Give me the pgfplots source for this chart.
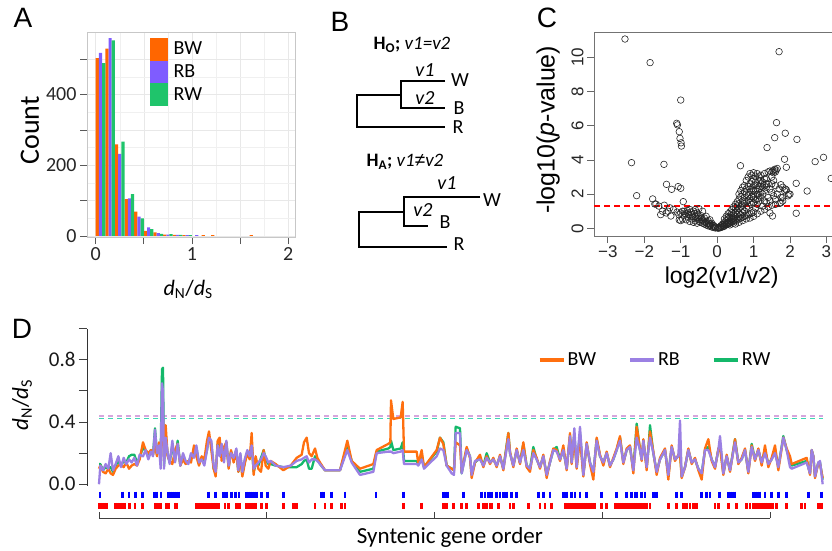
\documentclass[border=0pt]{standalone}
\usepackage{fontspec}
\setmainfont{Carlito}
\newfontfamily\arialf{Liberation Sans}
\usepackage{pgfplots}
\usepackage{pgfplotstable}
\pgfplotsset{compat=1.18}
\definecolor{bwA}{HTML}{FF6600}
\definecolor{rbA}{HTML}{7F5CFF}
\definecolor{rwA}{HTML}{1FC46B}
\definecolor{bwD}{HTML}{FF6F0F}
\definecolor{rbD}{HTML}{9B80E3}
\definecolor{rwD}{HTML}{14B86A}
\definecolor{dashP}{HTML}{D6A6DE}
\definecolor{dashG}{HTML}{3FD6B4}

\pgfplotstableread{
x BW RB RW
0 0.10 0.00 0.13
4 0.12 0.12 0.13
12 0.08 0.09 0.09
20 0.07 0.13 0.11
28 0.10 0.10 0.10
35 0.07 0.20 0.11
42 0.06 0.09 0.08
50 0.10 0.13 0.12
58 0.12 0.18 0.15
66 0.13 0.11 0.12
74 0.11 0.17 0.15
82 0.14 0.13 0.14
90 0.10 0.16 0.18
98 0.12 0.14 0.19
106 0.13 0.17 0.19
114 0.12 0.12 0.14
122 0.16 0.19 0.17
132 0.27 0.18 0.24
140 0.22 0.22 0.21
148 0.20 0.16 0.19
156 0.22 0.21 0.22
162 0.19 0.18 0.19
168 0.25 0.35 0.36
174 0.18 0.20 0.19
180 0.27 0.25 0.25
185 0.22 0.10 0.20
189 0.30 0.65 0.74
192 0.42 0.60 0.75
195 0.15 0.10 0.12
200 0.38 0.30 0.32
206 0.18 0.20 0.19
212 0.15 0.13 0.14
220 0.13 0.28 0.25
228 0.22 0.14 0.15
236 0.26 0.26 0.28
244 0.12 0.12 0.12
252 0.16 0.20 0.18
260 0.13 0.15 0.14
268 0.15 0.13 0.14
276 0.14 0.20 0.18
285 0.25 0.17 0.20
292 0.18 0.25 0.24
300 0.12 0.14 0.13
308 0.18 0.16 0.17
316 0.16 0.12 0.14
324 0.28 0.22 0.22
330 0.34 0.30 0.31
337 0.22 0.28 0.26
344 0.10 0.12 0.10
350 0.05 0.08 0.07
356 0.28 0.25 0.26
362 0.30 0.18 0.21
368 0.15 0.26 0.23
375 0.24 0.14 0.18
382 0.27 0.28 0.27
389 0.10 0.12 0.11
396 0.22 0.20 0.21
404 0.14 0.17 0.16
412 0.21 0.23 0.22
418 0.08 0.09 0.08
424 0.17 0.20 0.19
430 0.05 0.08 0.06
437 0.13 0.16 0.14
445 0.20 0.22 0.21
452 0.16 0.18 0.17
458 0.33 0.25 0.26
464 0.06 0.10 0.08
470 0.18 0.12 0.13
478 0.10 0.14 0.12
486 0.08 0.16 0.17
494 0.22 0.20 0.22
500 0.12 0.18 0.16
508 0.10 0.14 0.13
515 0.15 0.15 0.13
530 0.13 0.12 0.12
553 0.09 0.11 0.11
575 0.12 0.12 0.11
593 0.17 0.15 0.11
608 0.19 0.16 0.13
615 0.27 0.17 0.15
623 0.30 0.18 0.16
630 0.20 0.14 0.10
638 0.18 0.16 0.10
648 0.23 0.16 0.18
655 0.17 0.15 0.16
663 0.14 0.13 0.13
678 0.09 0.09 0.09
723 0.09 0.09 0.09
745 0.28 0.22 0.25
758 0.15 0.14 0.15
783 0.10 0.06 0.08
823 0.13 0.08 0.10
833 0.22 0.20 0.21
868 0.26 0.21 0.23
874 0.27 0.21 0.24
876 0.54 0.21 0.28
883 0.42 0.20 0.22
905 0.43 0.21 0.23
911 0.53 0.22 0.27
915 0.21 0.13 0.15
953 0.21 0.13 0.15
958 0.13 0.12 0.13
968 0.22 0.16 0.19
975 0.11 0.10 0.11
1013 0.22 0.18 0.21
1023 0.30 0.23 0.30
1033 0.26 0.22 0.27
1043 0.12 0.12 0.12
1058 0.10 0.07 0.10
1065 0.09 0.06 0.09
1070 0.27 0.33 0.37
1083 0.25 0.33 0.36
1088 0.08 0.07 0.07
1103 0.24 0.22 0.23
1113 0.17 0.18 0.18
1118 0.04 0.06 0.06
1128 0.14 0.15 0.14
1143 0.19 0.16 0.17
1153 0.11 0.12 0.12
1163 0.18 0.17 0.20
1173 0.13 0.14 0.14
1183 0.17 0.16 0.16
1193 0.11 0.12 0.12
1203 0.19 0.18 0.18
1213 0.09 0.10 0.10
1228 0.33 0.29 0.33
1233 0.21 0.20 0.20
1243 0.11 0.12 0.12
1253 0.23 0.22 0.22
1263 0.13 0.14 0.14
1273 0.27 0.22 0.26
1283 0.11 0.12 0.12
1293 0.08 0.10 0.10
1303 0.22 0.20 0.24
1313 0.17 0.16 0.16
1323 0.10 0.11 0.11
1333 0.19 0.18 0.18
1343 0.04 0.06 0.06
1353 0.15 0.14 0.14
1363 0.23 0.22 0.22
1373 0.22 0.21 0.24
1383 0.15 0.16 0.16
1393 0.25 0.22 0.22
1403 0.09 0.10 0.10
1413 0.33 0.31 0.31
1418 0.13 0.14 0.14
1426 0.30 0.36 0.32
1433 0.10 0.11 0.11
1443 0.30 0.37 0.33
1453 0.05 0.06 0.06
1463 0.27 0.26 0.26
1473 0.13 0.14 0.14
1483 0.03 0.08 0.07
1493 0.30 0.28 0.29
1503 0.19 0.18 0.18
1513 0.12 0.14 0.14
1523 0.21 0.20 0.20
1533 0.11 0.12 0.12
1543 0.17 0.16 0.16
1553 0.23 0.22 0.22
1563 0.31 0.28 0.30
1573 0.13 0.14 0.14
1583 0.23 0.22 0.22
1593 0.25 0.24 0.24
1603 0.07 0.09 0.09
1613 0.37 0.30 0.39
1623 0.23 0.22 0.22
1628 0.15 0.16 0.16
1633 0.29 0.28 0.28
1643 0.09 0.11 0.11
1648 0.23 0.22 0.22
1653 0.34 0.30 0.38
1663 0.21 0.20 0.20
1673 0.06 0.08 0.08
1683 0.17 0.16 0.16
1698 0.23 0.22 0.22
1708 0.03 0.06 0.06
1718 0.25 0.24 0.24
1728 0.15 0.16 0.16
1738 0.19 0.18 0.18
1743 0.20 0.41 0.22
1748 0.04 0.05 0.05
1758 0.11 0.11 0.11
1768 0.23 0.22 0.22
1778 0.13 0.14 0.14
1788 0.17 0.16 0.16
1798 0.09 0.10 0.10
1808 0.03 0.07 0.07
1818 0.23 0.22 0.22
1828 0.29 0.22 0.24
1838 0.15 0.16 0.16
1848 0.10 0.11 0.11
1858 0.23 0.22 0.22
1863 0.24 0.31 0.26
1873 0.06 0.07 0.07
1883 0.19 0.18 0.18
1893 0.08 0.09 0.09
1908 0.29 0.27 0.29
1918 0.13 0.14 0.14
1928 0.17 0.16 0.16
1938 0.23 0.22 0.22
1948 0.07 0.08 0.08
1958 0.25 0.24 0.26
1968 0.15 0.16 0.16
1978 0.23 0.22 0.22
1988 0.12 0.14 0.14
1998 0.25 0.20 0.22
2008 0.11 0.13 0.13
2018 0.17 0.16 0.16
2028 0.25 0.20 0.22
2038 0.09 0.11 0.11
2053 0.30 0.30 0.31
2063 0.23 0.22 0.22
2073 0.18 0.11 0.15
2078 0.13 0.10 0.12
2123 0.17 0.14 0.15
2133 0.06 0.07 0.07
2138 0.22 0.22 0.22
2143 0.18 0.18 0.18
2148 0.04 0.05 0.05
2158 0.14 0.14 0.14
2163 0.13 0.15 0.14
2171 0.04 0.00 0.03
}\dndsD

\begin{document}
\begin{tikzpicture}
\path[use as bounding box] (0pt,0pt) rectangle (832pt,-550pt);

% panel letters
\node[font=\arialf\fontsize{28pt}{28pt}\selectfont] at (23pt,-18pt) {A};
\node[font=\arialf\fontsize{28pt}{28pt}\selectfont] at (340pt,-22pt) {B};
\node[font=\arialf\fontsize{28pt}{28pt}\selectfont] at (547pt,-18pt) {C};
\node[font=\arialf\fontsize{28pt}{28pt}\selectfont] at (22pt,-329pt) {D};

% ---------- Panel A ----------
\begin{axis}[
  at={(87pt,-32pt)}, anchor=north west, scale only axis,
  width=208pt, height=205pt,
  xmin=-0.09, xmax=2.07, ymin=-3, ymax=577,
  axis line style={draw=black!22},
  xtick={0,0.5,1,1.5,2}, xticklabels={0,,1,,2},
  ytick={0,100,200,300,400,500}, yticklabels={0,,200,,400,},
  minor x tick num=1, minor y tick num=1,
  grid=both, major grid style={black!9}, minor grid style={black!6},
  tick align=outside, xtick pos=bottom, ytick pos=left,
  major tick length=7pt, minor tick length=0pt,
  tick style={black!65, line width=0.8pt},
  tick label style={font=\fontsize{20pt}{20pt}\selectfont, text=black!85},
  xlabel={\textit{d}\textsubscript{N}/\textit{d}\textsubscript{S}},
  xlabel style={font=\fontsize{22pt}{22pt}\selectfont, at={(axis description cs:0.486,-0.254)}, anchor=center},
  ylabel={Count},
  ylabel style={font=\fontsize{28pt}{28pt}\selectfont, at={(axis description cs:-0.275,0.52)}, anchor=center},
  legend style={at={(axis description cs:0.303,0.972)}, anchor=north west, draw=none, fill=none,
    font=\fontsize{20pt}{20pt}\selectfont, row sep=0pt, inner sep=0pt, nodes={inner sep=0.4pt},
    /tikz/every odd column/.append style={column sep=5pt}},
  legend cell align=left,
]
\addplot[ybar, bar width=0.0333, bar shift=0pt, fill=bwA, draw=none,
  legend image code/.code={\fill[bwA] (0pt,-11.3pt) rectangle (18pt,11.3pt);}]
  coordinates {(0.0167,503) (0.1167,530) (0.2167,259) (0.3167,104) (0.4167,69) (0.5167,14) (0.6167,10) (0.7167,4) (0.8167,3) (0.9167,2) (1.1167,2) (1.2167,2) (1.6167,2)};
\addlegendentry{BW}
\addplot[ybar, bar width=0.0333, bar shift=0pt, fill=rbA, draw=none,
  legend image code/.code={\fill[rbA] (0pt,-11.3pt) rectangle (18pt,11.3pt);}]
  coordinates {(0.05,518) (0.15,560) (0.25,232) (0.35,106) (0.45,55) (0.55,24) (0.65,8) (0.75,4) (0.85,3) (0.95,2) (1.05,2)};
\addlegendentry{RB}
\addplot[ybar, bar width=0.0333, bar shift=0pt, fill=rwA, draw=none,
  legend image code/.code={\fill[rwA] (0pt,-11.3pt) rectangle (18pt,11.3pt);}]
  coordinates {(0.0833,489) (0.1833,553) (0.2833,267) (0.3833,118) (0.4833,50) (0.5833,19) (0.6833,6) (0.7833,5) (0.8833,3) (0.9833,2)};
\addlegendentry{RW}
\end{axis}

% ---------- Panel B ----------
\begin{scope}[line width=2.7pt, line join=miter]
\draw (445pt,-81pt) -- (401pt,-81pt) -- (401pt,-108pt) -- (445pt,-108pt);
\draw (401pt,-95pt) -- (357pt,-95pt) -- (357pt,-127pt) -- (445pt,-127pt);
\draw (480pt,-197pt) -- (404pt,-197pt) -- (404pt,-226pt) -- (428pt,-226pt);
\draw (404pt,-212pt) -- (359pt,-212pt) -- (359pt,-247pt) -- (447pt,-247pt);
\end{scope}
\begin{scope}[every node/.style={font=\fontsize{20pt}{20pt}\selectfont, inner sep=0pt}]
\node at (412pt,-45pt) {\fontsize{19pt}{19pt}\selectfont\textbf{H\textsubscript{O};} \textit{v1=v2}};
\node at (425pt,-70pt) {\textit{v1}};
\node at (460pt,-80pt) {W};
\node at (425pt,-98pt) {\textit{v2}};
\node at (459pt,-108pt) {B};
\node at (458pt,-127pt) {R};
\node at (405pt,-162pt) {\fontsize{19pt}{19pt}\selectfont\textbf{H\textsubscript{A};} \textit{v1{\arialf ≠}v2}};
\node at (447pt,-183pt) {\textit{v1}};
\node at (492pt,-200pt) {W};
\node at (423pt,-210pt) {\textit{v2}};
\node at (445pt,-222pt) {B};
\node at (459pt,-244pt) {R};
\end{scope}

% ---------- Panel C ----------
\begin{axis}[
  at={(594pt,-32pt)}, anchor=north west, scale only axis,
  width=247pt, height=204pt,
  xmin=-3.38, xmax=3.4, ymin=-0.45, ymax=11.48,
  axis line style={draw=black!55, line width=0.8pt},
  xtick={-3,-2,-1,0,1,2,3}, xticklabels={−3,−2,−1,0,1,2,3},
  ytick={0,2,4,6,8,10}, yticklabels={0,2,4,6,8,10},
  tick align=outside, xtick pos=bottom, ytick pos=left,
  major tick length=7pt,
  tick style={black!60, line width=0.8pt},
  tick label style={font=\arialf\fontsize{17pt}{17pt}\selectfont, text=black!85},
  x tick label style={yshift=1pt},
  y tick label style={rotate=90, anchor=south},
  xlabel={log2(v1/v2)},
  xlabel style={font=\arialf\fontsize{23pt}{23pt}\selectfont, at={(axis description cs:0.517,-0.205)}, anchor=center},
  ylabel={-log10(\textit{p}-value)},
  ylabel style={font=\arialf\fontsize{25pt}{25pt}\selectfont, at={(axis description cs:-0.186,0.52)}, anchor=center},
  clip=true,
]
\addplot[only marks, mark=o, mark size=3.3pt, mark options={line width=0.6pt, draw=black!85}] coordinates {
(-2.53,11.07) (-1.84,9.69) (-1.0,7.5) (-1.11,6.14) (-1.09,6.05) (-1.04,5.65) (-1.02,5.26) (-0.99,5.0) (-0.98,4.81)
(-2.35,3.84) (-2.21,1.91) (-1.46,3.74) (-1.39,2.57) (-1.25,2.28) (-1.07,2.44) (-1.0,2.34) (-0.93,1.56)
(-1.77,1.72) (-1.71,1.42) (-1.04,0.49) (-1.27,0.72)
(-1.35,1.0) (-1.4,0.9) (-1.45,1.35) (-1.55,0.8) (-1.6,1.3) (-1.68,1.42) (-1.5,1.0) (-1.2,1.1) (-1.3,1.2) (-1.1,0.95) (-1.05,0.8) (-0.95,1.0)
(-0.05,0.02) (-0.1,0.05) (-0.15,0.08) (-0.2,0.12) (-0.25,0.15) (-0.3,0.2) (-0.35,0.25) (-0.4,0.3) (-0.45,0.35) (-0.5,0.4)
(-0.1,0.15) (-0.2,0.25) (-0.3,0.4) (-0.4,0.5) (-0.5,0.6) (-0.6,0.7) (-0.7,0.8) (-0.8,0.9) (-0.9,1.0)
(-0.15,0.3) (-0.25,0.45) (-0.35,0.6) (-0.45,0.75) (-0.55,0.9) (-0.6,1.1) (-0.5,1.15) (-0.4,1.0)
(-0.6,0.45) (-0.7,0.55) (-0.8,0.65) (-0.9,0.75) (-1.0,0.9) (-0.95,0.55) (-1.0,0.45)
(-0.05,0.08) (-0.08,0.12) (-0.12,0.2) (-0.18,0.18) (-0.22,0.3) (-0.28,0.28) (-0.32,0.35) (-0.38,0.42) (-0.42,0.6) (-0.48,0.5)
(-0.52,0.72) (-0.58,0.6) (-0.62,0.85) (-0.68,0.7) (-0.72,0.95) (-0.78,0.8) (-0.82,1.05) (-0.88,0.85)
(0.02,0.01) (0.03,0.04) (0.08,0.03) (0.12,0.08) (0.18,0.1) (0.22,0.2) (0.28,0.25) (0.32,0.3) (0.38,0.4) (0.42,0.5) (0.48,0.55)
(0.05,0.02) (0.1,0.05) (0.15,0.1) (0.2,0.15) (0.25,0.2) (0.3,0.25) (0.35,0.3) (0.4,0.35) (0.45,0.4) (0.5,0.45) (0.55,0.5) (0.6,0.55) (0.65,0.6) (0.7,0.65) (0.75,0.7) (0.8,0.75) (0.85,0.8) (0.9,0.85) (0.95,0.9) (1.0,0.95)
(0.1,0.15) (0.15,0.25) (0.2,0.35) (0.25,0.45) (0.3,0.55) (0.35,0.65) (0.4,0.75) (0.45,0.85) (0.5,0.95) (0.55,1.05) (0.6,1.15) (0.65,1.25) (0.7,1.35) (0.75,1.45) (0.8,1.55) (0.85,1.65) (0.9,1.75) (0.95,1.85) (1.0,1.95)
(0.2,0.55) (0.25,0.7) (0.3,0.85) (0.35,0.95) (0.4,1.1) (0.45,1.25) (0.5,1.4) (0.55,1.55) (0.6,1.7) (0.65,1.85) (0.7,2.0) (0.75,2.15) (0.8,2.3) (0.85,2.45) (0.9,2.6) (0.95,2.75) (1.0,2.9) (1.05,3.05) (0.9,3.2) (0.85,3.0)
(0.5,0.25) (0.6,0.35) (0.7,0.45) (0.8,0.55) (0.9,0.6) (1.0,0.7) (1.1,0.85) (1.2,1.0) (1.3,1.1) (1.4,1.25) (1.5,1.35) (1.6,1.4)
(1.05,1.2) (1.1,1.4) (1.15,1.6) (1.2,1.8) (1.25,2.0) (1.3,2.2) (1.35,2.4) (1.4,2.6) (1.45,2.3) (1.5,2.1) (1.55,1.9) (1.6,1.7) (1.65,2.0) (1.7,2.3) (1.75,1.8) (1.8,1.6)
(1.05,2.2) (1.1,2.5) (1.15,2.8) (1.2,3.1) (1.25,2.7) (1.3,2.9) (1.35,2.6) (1.4,3.3) (1.45,3.35) (1.5,3.3) (1.3,1.6) (1.4,1.8) (1.5,2.6) (1.55,2.8) (1.6,2.5) (1.65,3.5)
(1.05,1.7) (1.1,2.0) (1.15,2.3) (1.2,2.45) (1.25,1.3) (1.35,1.5) (1.45,1.6) (0.95,2.3) (0.9,2.1) (0.85,1.9) (0.8,1.2) (0.75,1.0) (0.7,0.9) (0.65,0.8) (0.6,0.9) (0.55,0.8) (0.5,0.7) (0.45,0.6) (0.4,0.55) (0.35,0.45) (0.3,0.35) (0.25,0.3) (0.2,0.25) (0.15,0.18)
(0.85,1.3) (0.95,1.4) (1.0,1.5) (1.1,1.7) (1.2,2.1) (1.25,2.4) (1.0,2.5) (1.05,2.7) (0.95,3.1) (1.0,3.25) (1.1,3.2) (1.15,3.0) (0.8,2.8) (0.75,2.5) (0.7,2.4) (0.65,2.2) (0.6,2.0)
(0.3,0.65) (0.4,0.9) (0.5,1.2) (0.55,1.3) (0.6,1.45) (0.7,1.6) (0.75,1.8) (0.8,2.0) (0.9,2.3) (1.0,2.2) (1.1,2.3) (1.2,2.6) (1.3,2.5) (1.35,2.9) (1.3,3.2) (1.2,2.8) (1.15,1.9) (1.0,1.8) (0.9,1.5) (0.7,1.1) (0.6,0.65) (0.45,0.3) (0.35,0.2)
(-0.55,0.3) (-0.65,0.35) (-0.75,0.4) (-0.85,0.5) (-0.65,1.0) (-0.75,1.1) (-0.3,0.7) (-0.2,0.5)
(1.52,0.72) (1.72,1.46) (1.97,1.99) (1.87,2.3) (1.9,2.25) (2.0,2.0) (1.8,2.4) (1.75,2.55) (1.6,3.3) (1.55,3.25) (1.5,3.0) (1.85,2.2) (1.95,1.9)
(2.17,2.63) (2.47,2.18) (2.17,0.88) (1.53,3.37) (1.58,3.45) (1.62,3.4) (0.64,3.66) (1.37,4.72) (1.63,6.18) (1.58,5.30) (1.87,5.56) (2.19,5.2) (1.85,4.04) (1.90,3.57)
(2.69,3.9) (2.92,4.15) (3.13,2.92) (1.70,10.33) (1.8,1.8) (1.75,1.5) (1.45,0.9)
};
\addplot[red, line width=1.4pt, dash pattern=on 6pt off 4pt] coordinates {(-3.38,1.3) (3.4,1.3)};
\end{axis}

% ---------- Panel D ----------
\begin{axis}[
  at={(87pt,-328.8pt)}, anchor=north west, scale only axis,
  width=742pt, height=157pt,
  xmin=-36, xmax=2190, ymin=-0.01, ymax=1.0,
  axis y line=left, axis x line=none,
  axis line style={-, draw=black!80, line width=1pt},
  ytick={0,0.2,0.4,0.6,0.8,1.0}, yticklabels={0.0,,0.4,,0.8,},
  tick align=outside, major tick length=8pt,
  tick style={black!75, line width=1pt},
  tick label style={font=\fontsize{21pt}{21pt}\selectfont, text=black!90},
  ylabel={\textit{d}\textsubscript{N}/\textit{d}\textsubscript{S}},
  ylabel style={font=\fontsize{23pt}{23pt}\selectfont, at={(axis description cs:-0.0876,0.515)}, anchor=center},
  clip=false,
  legend image code/.code={\draw[#1, line width=4pt] (0pt,0pt) -- (24pt,0pt);},
  legend style={at={(axis description cs:0.603,0.80)}, anchor=west, draw=none, fill=none,
    font=\fontsize{20pt}{20pt}\selectfont, legend columns=3,
    /tikz/every even column/.append style={column sep=30pt}},
]
\addplot[dashP, line width=1.3pt, dash pattern=on 5pt off 4pt, forget plot] coordinates {(0,0.44) (2171,0.44)};
\addplot[dashG, line width=1.3pt, dash pattern=on 5pt off 4pt, forget plot] coordinates {(0,0.425) (2171,0.425)};
\addplot[rwD, line width=2.3pt, line join=round, forget plot] table[x=x, y=RW] {\dndsD};
\addplot[bwD, line width=2.3pt, line join=round, forget plot] table[x=x, y=BW] {\dndsD};
\addplot[rbD, line width=2.3pt, line join=round, forget plot] table[x=x, y=RB] {\dndsD};
\addlegendimage{bwD}
\addlegendentry{BW}
\addlegendimage{rbD}
\addlegendentry{RB}
\addlegendimage{rwD}
\addlegendentry{RW}
\addplot[only marks, mark=|, mark size=3pt, mark options={line width=2.4pt, draw=blue}, forget plot] coordinates {
(3,-0.066) (70,-0.066) (90,-0.066) (110,-0.066) (130,-0.066) (166,-0.066) (172,-0.066) (186,-0.066) (208,-0.066) (214,-0.066) (220,-0.066) (226,-0.066) (232,-0.066) (238,-0.066)
(328,-0.066) (350,-0.066) (373,-0.066) (383,-0.066) (398,-0.066) (410,-0.066) (420,-0.066) (443,-0.066) (449,-0.066) (455,-0.066) (461,-0.066) (467,-0.066) (473,-0.066) (488,-0.066) (505,-0.066)
(553,-0.066) (668,-0.066) (675,-0.066) (698,-0.066) (738,-0.066) (831,-0.066) (913,-0.066) (1033,-0.066) (1039,-0.066) (1045,-0.066) (1093,-0.066)
(1148,-0.066) (1158,-0.066) (1168,-0.066) (1178,-0.066) (1193,-0.066) (1203,-0.066) (1213,-0.066) (1223,-0.066) (1238,-0.066) (1253,-0.066)
(1318,-0.066) (1333,-0.066) (1353,-0.066) (1393,-0.066) (1403,-0.066) (1418,-0.066) (1428,-0.066) (1443,-0.066) (1463,-0.066) (1508,-0.066)
(1553,-0.066) (1583,-0.066) (1598,-0.066) (1608,-0.066) (1613,-0.066) (1628,-0.066) (1638,-0.066) (1663,-0.066) (1673,-0.066) (1733,-0.066) (1748,-0.066)
(1808,-0.066) (1823,-0.066) (1833,-0.066) (1861,-0.066) (1888,-0.066) (1895,-0.066) (1902,-0.066) (1908,-0.066) (1963,-0.066) (1970,-0.066) (1977,-0.066) (1983,-0.066)
(1998,-0.066) (2018,-0.066) (2038,-0.066) (2063,-0.066) (2128,-0.066) (2168,-0.066)
};
\addplot[only marks, mark=|, mark size=3.2pt, mark options={line width=2.4pt, draw=red}, forget plot] coordinates {
(0,-0.14) (6,-0.14) (12,-0.14) (18,-0.14) (24,-0.14) (50,-0.14) (56,-0.14) (64,-0.14) (70,-0.14) (76,-0.14) (91,-0.14) (108,-0.14) (130,-0.14)
(168,-0.14) (174,-0.14) (180,-0.14) (186,-0.14) (203,-0.14) (209,-0.14) (228,-0.14) (234,-0.14)
(293,-0.14) (300,-0.14) (306,-0.14) (312,-0.14) (320,-0.14) (328,-0.14) (336,-0.14) (344,-0.14) (350,-0.14) (358,-0.14) (378,-0.14) (388,-0.14) (413,-0.14) (421,-0.14)
(443,-0.14) (450,-0.14) (457,-0.14) (464,-0.14) (471,-0.14) (488,-0.14) (503,-0.14) (553,-0.14) (583,-0.14) (593,-0.14) (648,-0.14) (678,-0.14) (698,-0.14) (728,-0.14) (738,-0.14)
(913,-0.14) (968,-0.14) (1033,-0.14) (1038,-0.14) (1043,-0.14) (1063,-0.14) (1088,-0.14) (1103,-0.14) (1138,-0.14) (1153,-0.14) (1163,-0.14) (1173,-0.14) (1178,-0.14) (1198,-0.14)
(1233,-0.14) (1243,-0.14) (1288,-0.14) (1323,-0.14) (1338,-0.14) (1358,-0.14)
(1398,-0.14) (1405,-0.14) (1412,-0.14) (1419,-0.14) (1426,-0.14) (1433,-0.14) (1440,-0.14) (1447,-0.14) (1454,-0.14) (1461,-0.14) (1468,-0.14) (1475,-0.14) (1482,-0.14) (1488,-0.14)
(1508,-0.14) (1523,-0.14) (1548,-0.14) (1555,-0.14) (1562,-0.14) (1569,-0.14) (1576,-0.14) (1583,-0.14) (1590,-0.14) (1597,-0.14) (1604,-0.14) (1611,-0.14) (1618,-0.14) (1625,-0.14)
(1633,-0.14) (1643,-0.14) (1653,-0.14) (1708,-0.14) (1733,-0.14) (1753,-0.14) (1763,-0.14) (1773,-0.14) (1783,-0.14) (1793,-0.14) (1848,-0.14) (1858,-0.14) (1888,-0.14) (1913,-0.14)
(1943,-0.14) (1953,-0.14) (1963,-0.14) (1973,-0.14) (1980,-0.14) (1987,-0.14) (1994,-0.14) (2001,-0.14) (2008,-0.14) (2015,-0.14) (2022,-0.14) (2033,-0.14) (2063,-0.14)
(2108,-0.14) (2118,-0.14) (2158,-0.14) (2168,-0.14)
};
\end{axis}

\begin{axis}[
  at={(99pt,-518pt)}, anchor=south west, scale only axis,
  width=671pt, height=10pt,
  xmin=0, xmax=2000, ymin=0, ymax=1,
  axis x line=bottom, axis y line=none,
  axis line style={-, draw=black!75, line width=1pt},
  xtick={0,500,1000,1500,2000}, xticklabels={},
  tick align=inside, major tick length=6pt,
  tick style={black!75, line width=1pt},
  xlabel={Syntenic gene order},
  xlabel style={font=\fontsize{23pt}{23pt}\selectfont, at={(axis description cs:0.523,0)}, anchor=center, yshift=-19pt},
]
\addplot[draw=none] coordinates {(0,0.5)};
\end{axis}
\end{tikzpicture}
\end{document}
